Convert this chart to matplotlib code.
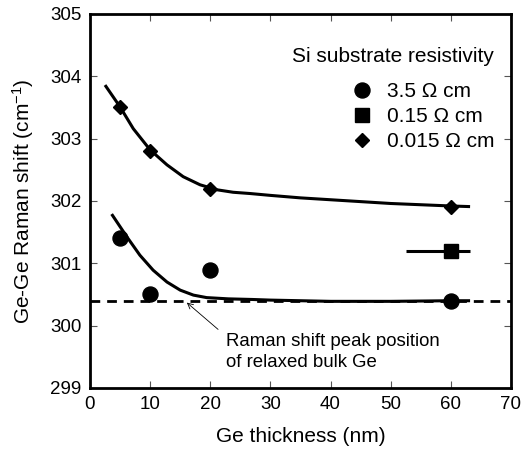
import matplotlib
matplotlib.use("Agg")
import matplotlib.pyplot as plt
from matplotlib.lines import Line2D

plt.rcParams['font.family'] = ['Liberation Sans', 'DejaVu Sans']
plt.rcParams['mathtext.default'] = 'regular'

# Data
thick_circ = [5, 10, 20, 60]
shift_circ = [301.4, 300.5, 300.9, 300.4]
thick_diam = [5, 10, 20, 60]
shift_diam = [303.5, 302.8, 302.2, 301.9]
thick_sq = [60]
shift_sq = [301.2]
sq_range_x = [52.6, 63.2]

# guide curves
upper_x = [2.5, 5.0, 7.2, 10.0, 12.8, 15.5, 18.3, 21.1, 23.8, 26.6, 30, 35, 40, 45, 50, 55, 60, 63.2]
upper_y = [303.86, 303.51, 303.16, 302.82, 302.58, 302.39, 302.26, 302.18, 302.14, 302.12, 302.09, 302.05, 302.02, 301.99, 301.96, 301.94, 301.92, 301.91]
lower_x = [3.6, 6.1, 8.3, 10.5, 12.8, 15.0, 17.2, 19.4, 23.0, 27, 30, 40, 50, 60, 63.2]
lower_y = [301.79, 301.43, 301.13, 300.89, 300.70, 300.57, 300.49, 300.45, 300.43, 300.42, 300.41, 300.39, 300.39, 300.40, 300.40]
bulk_ge = 300.4

xticks = [0, 10, 20, 30, 40, 50, 60, 70]
yticks = [299, 300, 301, 302, 303, 304, 305]

fig = plt.figure(figsize=(5.25, 4.5), dpi=100)
ax = fig.add_axes([0.1714, 0.1378, 0.8019, 0.8311])

fs_tick = 13.5
fs = 15
ax.axhline(bulk_ge, color='black', lw=2.0, ls=(0, (3.5, 2.5)), zorder=1)
ax.plot(upper_x, upper_y, color='black', lw=2.2, solid_capstyle='butt', solid_joinstyle='round', zorder=2)
ax.plot(lower_x, lower_y, color='black', lw=2.2, solid_capstyle='butt', solid_joinstyle='round', zorder=2)
ax.plot(sq_range_x, [shift_sq[0], shift_sq[0]], color='black', lw=2.2, solid_capstyle='butt', zorder=2)

ax.plot(thick_circ, shift_circ, 'o', color='black', ms=10.8, ls='none', zorder=3)
ax.plot(thick_sq, shift_sq, 's', color='black', ms=10.5, ls='none', zorder=3)
ax.plot(thick_diam, shift_diam, 'D', color='black', ms=6.8, ls='none', zorder=3)

ax.annotate('', xy=(16.1, 300.37), xytext=(21.3, 299.94),
            arrowprops=dict(arrowstyle='->', color='black', lw=0.6, shrinkA=0, shrinkB=0))
ax.text(22.6, 299.89, 'Raman shift peak position\nof relaxed bulk Ge',
        fontsize=13.4, va='top', ha='left', linespacing=1.35)

handles = [Line2D([], [], marker='o', color='black', ls='none', ms=10.8),
           Line2D([], [], marker='s', color='black', ls='none', ms=10.5),
           Line2D([], [], marker='D', color='black', ls='none', ms=6.8)]
labels = ['3.5 \u03a9 cm', '0.15 \u03a9 cm', '0.015 \u03a9 cm']
leg = ax.legend(handles, labels, title='Si substrate resistivity', loc='upper right',
                bbox_to_anchor=(0.98, 0.935), frameon=False, fontsize=fs, title_fontsize=fs,
                alignment='right', handletextpad=0.7, labelspacing=0.28, handlelength=1.0,
                borderaxespad=0)
leg._legend_box.sep = 12

ax.set_xlim(0, 70)
ax.set_ylim(299, 305)
ax.set_xticks(xticks)
ax.set_yticks(yticks)
ax.tick_params(direction='in', length=5, width=0.8, color='#555555', top=True, right=True,
               labelsize=fs_tick, pad=6)
for s in ax.spines.values():
    s.set_linewidth(2.0)

ax.set_xlabel('Ge thickness (nm)', fontsize=fs, labelpad=10)
ax.set_ylabel('Ge-Ge Raman shift (cm$^{-1}$)', fontsize=fs, labelpad=10)

fig.savefig('out.png', dpi=100)
